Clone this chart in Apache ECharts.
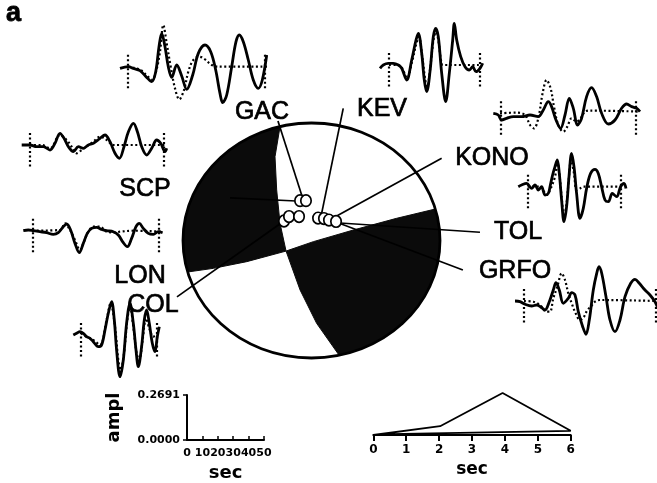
<!DOCTYPE html>
<html><head><meta charset="utf-8">
<script src="https://cdn.jsdelivr.net/npm/echarts@6/dist/echarts.min.js"></script>
<style>html,body{margin:0;padding:0;background:#fff}#c{width:657px;height:483px}</style>
</head><body><div id="c"></div>
<script>
// ---------- waveform data: [time sample, amplitude] (observed = solid, synthetic = dotted) ----------
const gacObs = [[0,-1.7],[8.3,0],[13.3,-1.7],[20,-4],[26.7,-10.7],[31.7,-15],[35.7,-5],[39,20],[41.7,33.3],[45,20],[48.3,0],[51.7,-10.7],[56.7,1.7],[61.7,-9.3],[66.7,-22.7],[72.7,-8.3],[78.3,13.3],[85,21.7],[90.7,15],[95.7,-3.3],[100,-26.7],[102.7,-36],[106.7,-28.3],[111.7,0],[116,25],[119.3,31.7],[123.3,25],[128.3,6.7],[133.3,-13.3],[138.3,-21.7],[142.3,-13.3],[146.7,11.7]];
const gacSyn = [[8,0],[20,-3],[27,-9],[32,-13],[36,-5],[40,15],[43.3,41.7],[46.7,23.3],[50.7,0],[55,-21.7],[59.3,-32.7],[64,-23.3],[68.3,-5],[73.3,6.7],[79.3,10],[85,7.3],[91.7,1.7],[98.3,0],[148,0]];
const gacMarks = [7.7,145];

const kevObs = [[0,-3.3],[3.3,0],[8.3,1.7],[13.3,1.7],[18.3,0],[21.7,-3.3],[26.7,-15],[31.7,5],[36,25],[38.3,31.7],[41.7,11.7],[44.3,-15],[46.7,-26.7],[50,-6.7],[53.3,28.3],[55.7,36.7],[58.3,28.3],[61.7,-8.3],[65.7,-36.7],[69.3,-8.3],[72.7,25],[74.3,41.7],[76.7,25],[80.7,8.3],[85,-1.7],[89.3,-5],[92.7,-1.7],[96,-6.7],[100,-3.3],[102.7,1.7]];
const kevSyn = [[9,0],[18,0],[22,-3],[27,-13],[32,3],[36.5,22],[39,28],[42,10],[45,-13],[47,-24],[50,-5],[53.5,25],[56,33],[58.3,25],[61,5],[63,0],[100,0]];
const kevMarks = [9,99.3];

const scpObs = [[0,0],[8.3,0],[15,-1.7],[21.7,-1.7],[28.3,-5],[33.3,1.7],[38.3,11.7],[42.3,6.7],[46.7,-1.7],[51.7,-6.7],[56.7,-1.7],[61.7,-3.3],[66.7,0],[71.7,1.7],[78.3,6.7],[83.3,10],[88.3,3.3],[93.3,-8.3],[97.7,-13.3],[102.3,-1.7],[106.7,13.3],[111.7,21.7],[115.7,13.3],[120,-1.7],[125,-10],[130,-3.3],[135,5],[139,1.7],[143.3,-6.7],[145,-3.3]];
const scpSyn = [[7.7,0],[20,0],[28.3,-3.3],[38.3,10],[45,5],[50,-1.7],[55,-8.3],[60,-5],[66.7,0],[71.7,3.3],[78.3,8.3],[85,5],[91.7,0],[145,0]];
const scpMarks = [7.7,141.7];

const konoObs = [[0,0],[5,-1.7],[8.3,-6.7],[13.3,-5],[20,-3.3],[28.3,-3.3],[36.7,-1.7],[45,-3.3],[50,3.3],[55,11.7],[58.3,6.7],[62.7,-6.7],[67.3,-15],[71.7,-1.7],[76,15],[80,5],[84.3,-11.7],[88.3,-5],[93.3,16.7],[98.3,25.7],[103.3,16.7],[108.3,0],[115,-10.7],[121.7,-6.7],[128.3,5],[133.3,9.3],[138.3,6.7],[143.3,5],[146.7,1.7]];
const konoSyn = [[6.7,0],[23.3,0.7],[31.7,-1.7],[36.7,-11.7],[40.7,-15],[45,-5],[49.3,20],[53.3,33.3],[57.3,25],[60.7,6.7],[65,-11.7],[70,-18.3],[74,-13.3],[78.3,-5],[83.3,-8.3],[87.3,-5],[91.7,1.7],[96.7,2.7],[146.7,1.7]];
const konoMarks = [7.7,142.3];

const tolObs = [[0,0],[3.3,1.7],[8.3,3.3],[13.3,-1.7],[16.7,1.7],[20,-3.3],[23.3,0],[26.7,-8.3],[30,-6.7],[31.7,0],[34.3,11.7],[36.7,20],[39,26.7],[41,13.3],[43.3,-13.3],[45.7,-35],[48.3,-20],[50.7,10],[53.3,33.3],[55.7,20],[58.3,-6.7],[61.7,-31.7],[65,-21.7],[68.3,-1.7],[72.3,13.3],[76.7,17.3],[80,13.3],[83.3,0],[86.7,-13.3],[90,-15],[94,-6.7],[98.3,-10],[102.3,0],[105.7,3.3],[107.7,-1.7]];
const tolSyn = [[9.3,0],[21.7,0],[28.3,-8.3],[31.7,-3.3],[36.7,10],[39,23.3],[41,13.3],[43.3,-10],[45.7,-30],[48.3,-16.7],[50.7,10],[52.7,26.7],[55.7,13.3],[58.3,-3.3],[61.7,-1.7],[65,0],[105,0]];
const tolMarks = [9.3,102.3];

const lonObs = [[0,0],[5,0.7],[10,0],[16.7,-1],[23.3,-2],[30,-3.7],[35,-2],[40,4],[43.3,6.7],[47.3,0.7],[51.7,-12.7],[56,-22],[60,-12.7],[64,-2.7],[68.3,2.3],[73.3,3.3],[78.3,1.3],[83.3,0],[90,-1],[95,-4.3],[100,-12],[104,-16],[108.3,-7.7],[112.7,4],[116,7.3],[120,2.3],[125,-2.7],[130,-3.7],[135,-1],[139.3,-2]];
const lonSyn = [[9,0],[36.7,0.7],[41.7,7.3],[46.7,0.7],[51.7,-9.3],[56.7,-19.3],[60.7,-11],[65,-1],[70,4],[76.7,4],[83.3,-1],[91.7,-1.7],[96.7,-1],[110,0],[138.3,-1]];
const lonMarks = [9,135];

const colObs = [[0,0],[3.3,1.7],[6.7,3.3],[10,1.7],[13.3,-1.7],[16.7,-3.3],[20,-6.7],[25,-11.7],[28.3,-10],[31.7,5],[35,21.7],[38.3,33.3],[41,15],[43.3,-15],[46.7,-41.7],[50,-25],[53.3,11.7],[56.7,31.7],[60,11.7],[62.7,-15],[65,-31.7],[68.3,-11.7],[71,15],[73.3,25],[76,11.7],[79,-8.3],[81.7,-16.7],[84,-1.7],[86,8.3]];
const colSyn = [[7.7,1.7],[13.3,-1.7],[20,-5],[26.7,-10],[33.3,15],[37.3,31.7],[41.7,8.3],[45,-25],[47.3,-35],[50.7,-18.3],[54,15],[56.7,28.3],[60,8.3],[63.3,-18.3],[66,-25],[69.3,-5],[72.7,16.7],[76,6.7],[80,-1.7],[83.3,0]];
const colMarks = [7.7,83.3];

const grfoObs = [[0,0],[5,-0.7],[10,-3.3],[16.7,-5],[21.7,-4],[26.7,-6.7],[30,-9],[34.3,-0.7],[38.3,11],[41,18.3],[44.3,11],[48.3,-2.3],[53.3,2.7],[56.7,8.3],[60,6],[63.3,-10.7],[67.7,-25.7],[71,-33.3],[74.3,-19],[78.3,11],[81.7,27.7],[84,34.3],[86.7,27.7],[91,4.3],[95,-19],[100,-30.7],[105,-19],[110,4.3],[115.7,17.7],[120,21.7],[124.3,17.7],[130,11],[135,6],[140,-0.7],[142.3,-5.7]];
const grfoSyn = [[9,0],[18.3,-0.7],[25,-4],[31.7,-10.7],[35,-10.7],[38.3,2.7],[42.3,14.3],[46.7,27.7],[50,21],[53.3,7.7],[56.7,-2.3],[60,-10.7],[65,-19],[69,-15.7],[72.3,-9],[75.7,-5.7],[80,-0.7],[85,1],[141.7,0]];
const grfoMarks = [9,141];

const markExtent = [12,-24]; // window marker amplitude (top, bottom)

// ---------- focal mechanism (unit-circle coordinates) ----------
const nodalPlane1 = [[-0.245,0.97],[-0.284,0.713],[-0.271,0.43],[-0.245,0.146],[-0.198,-0.09],[-0.089,-0.421],[0.04,-0.705],[0.215,-0.977]];
const nodalPlane2 = [[-0.964,-0.268],[-0.764,-0.237],[-0.504,-0.18],[-0.198,-0.09],[0.014,-0.01],[0.325,0.089],[0.663,0.189],[0.964,0.268]];
const stationPoints = [[-0.089,0.339],[-0.043,0.339],[-0.214,0.166],[-0.175,0.204],[-0.097,0.204],[0.051,0.191],[0.097,0.187],[0.136,0.174],[0.191,0.162]];
const stationLines = [
  [[-0.074,0.379],[-0.261,1.017]],
  [[0.079,0.231],[0.247,1.125]],
  [[0.196,0.209],[1.013,0.70]],
  [[0.222,0.149],[1.311,0.07]],
  [[0.191,0.157],[1.178,-0.251]],
  [[-0.12,0.336],[-0.634,0.362]],
  [[-0.214,0.166],[-1.047,-0.48]]
];
const stationNames = ['GAC','KEV','KONO','TOL','GRFO','SCP','LON','COL'];

// ---------- source time functions ----------
const stfLeftTicks = [0,10,20,30,40,50];
const stfLeftAmp = [0.0000,0.2691];
const stfTime = [0,2.03,3.93,6,0.5];
const stfAmp  = [0,0.21,1,0.1,0.02];

// ---------- layout ----------
const traces = [
  {obs:gacObs, syn:gacSyn, marks:gacMarks, span:148, left:120, top:21.7},
  {obs:kevObs, syn:kevSyn, marks:kevMarks, span:103, left:380, top:20},
  {obs:scpObs, syn:scpSyn, marks:scpMarks, span:145, left:21.7, top:100},
  {obs:konoObs, syn:konoSyn, marks:konoMarks, span:147, left:493.3, top:68.3},
  {obs:tolObs, syn:tolSyn, marks:tolMarks, span:108, left:518.3, top:141.7},
  {obs:lonObs, syn:lonSyn, marks:lonMarks, span:140, left:23.3, top:185.7},
  {obs:colObs, syn:colSyn, marks:colMarks, span:87, left:73.3, top:290},
  {obs:grfoObs, syn:grfoSyn, marks:grfoMarks, span:142, left:515, top:256}
];

const grids=[], xAxes=[], yAxes=[], series=[];
traces.forEach((tr,i)=>{
  grids.push({left:tr.left, top:tr.top, width:tr.span, height:90});
  xAxes.push({type:'value', gridIndex:i, min:0, max:tr.span, show:false});
  yAxes.push({type:'value', gridIndex:i, min:-45, max:45, show:false});
  series.push({type:'line', xAxisIndex:i, yAxisIndex:i, data:tr.obs, smooth:0.35, symbol:'none',
    lineStyle:{color:'#000', width:2.8}, animation:false, silent:true, z:3});
  series.push({type:'line', xAxisIndex:i, yAxisIndex:i, data:tr.syn, smooth:0.35, symbol:'none',
    lineStyle:{color:'#000', width:2.2, type:[2,2.5]}, animation:false, silent:true, z:2,
    markLine:{silent:true, symbol:['none','none'], label:{show:false}, animation:false,
      lineStyle:{color:'#000', width:2.2, type:[2,2.5]},
      data: tr.marks.map(t=>[{coord:[t,markExtent[0]]},{coord:[t,markExtent[1]]}])}});
});

// beachball grid
const BI = traces.length;
grids.push({left:183, top:123, width:257, height:235});
xAxes.push({type:'value', gridIndex:BI, min:-1, max:1, show:false});
yAxes.push({type:'value', gridIndex:BI, min:-1, max:1, show:false});

function ang(p){ return Math.atan2(p[1],p[0]); }
function renderBall(params, api){
  const C = p => api.coord(p);
  const c0 = C([0,0]), cx = C([1,0]), cy = C([0,1]);
  const rx = cx[0]-c0[0], ry = c0[1]-cy[1];
  function arc(a0,a1,n){ const pts=[]; for(let k=0;k<=n;k++){ const a=a0+(a1-a0)*k/n; pts.push(C([Math.cos(a),Math.sin(a)])); } return pts; }
  const p1 = nodalPlane1, p2 = nodalPlane2;
  const A = arc(ang(p1[0]), ang(p2[0])+ (ang(p2[0])<ang(p1[0])?2*Math.PI:0), 40)
    .concat([p2[1],p2[2],p2[3],p1[3],p1[2],p1[1]].map(C));
  const B = [p2[3],p2[4],p2[5],p2[6]].map(C)
    .concat(arc(ang(p2[7]), ang(p1[7]), 40))
    .concat([p1[6],p1[5]].map(C));
  const children = [
    {type:'polygon', shape:{points:A}, style:{fill:'#0b0b0b', stroke:'#0b0b0b', lineWidth:1}},
    {type:'polygon', shape:{points:B}, style:{fill:'#0b0b0b', stroke:'#0b0b0b', lineWidth:1}},
    {type:'ellipse', shape:{cx:c0[0], cy:c0[1], rx:rx, ry:ry}, style:{fill:null, stroke:'#000', lineWidth:2.8}}
  ];
  stationLines.forEach(l=>{
    const a=C(l[0]), b=C(l[1]);
    children.push({type:'line', shape:{x1:a[0],y1:a[1],x2:b[0],y2:b[1]}, style:{stroke:'#000', lineWidth:1.7}});
  });
  stationPoints.forEach(p=>{
    const q=C(p);
    children.push({type:'ellipse', shape:{cx:q[0], cy:q[1], rx:5.2, ry:5.8}, style:{fill:'#fff', stroke:'#000', lineWidth:1.7}});
  });
  return {type:'group', children};
}
series.push({type:'custom', xAxisIndex:BI, yAxisIndex:BI, data:[[0,0]], renderItem:renderBall,
  animation:false, silent:true, clip:false, z:1});

// bottom-left panel
const LI = BI+1;
const boldTxt = {color:'#000', fontFamily:'DejaVu Sans', fontWeight:'bold'};
grids.push({left:187, top:395, width:77, height:46});
xAxes.push({type:'value', gridIndex:LI, min:stfLeftTicks[0], max:stfLeftTicks[stfLeftTicks.length-1], interval:10,
  axisLine:{show:true, onZero:false, lineStyle:{color:'#000', width:2}},
  axisTick:{show:true, inside:true, length:4, lineStyle:{color:'#000', width:1.5}},
  axisLabel:Object.assign({fontSize:11, margin:8}, boldTxt),
  splitLine:{show:false},
  name:'sec', nameLocation:'middle', nameGap:24,
  nameTextStyle:Object.assign({fontSize:18}, boldTxt)});
yAxes.push({type:'value', gridIndex:LI, min:stfLeftAmp[0], max:stfLeftAmp[1], interval:stfLeftAmp[1],
  axisLine:{show:true, lineStyle:{color:'#000', width:2}},
  axisTick:{show:true, length:4, lineStyle:{color:'#000', width:1.5}},
  axisLabel:Object.assign({fontSize:11, margin:7, formatter:v=>v.toFixed(4)}, boldTxt),
  splitLine:{show:false},
  name:'ampl', nameLocation:'middle', nameRotate:90, nameGap:64,
  nameTextStyle:Object.assign({fontSize:18}, boldTxt)});

// bottom-right panel
const RI = LI+1;
grids.push({left:373.3, top:393, width:197.4, height:42});
xAxes.push({type:'value', gridIndex:RI, min:0, max:6, interval:1,
  axisLine:{show:true, onZero:false, lineStyle:{color:'#000', width:2}},
  axisTick:{show:true, length:6, lineStyle:{color:'#000', width:2}},
  axisLabel:Object.assign({fontSize:12, margin:9}, boldTxt),
  splitLine:{show:false},
  name:'sec', nameLocation:'middle', nameGap:26,
  nameTextStyle:Object.assign({fontSize:17}, boldTxt)});
yAxes.push({type:'value', gridIndex:RI, min:0, max:1, show:false});
series.push({type:'line', xAxisIndex:RI, yAxisIndex:RI, data:stfTime.map((t,k)=>[t,stfAmp[k]]),
  symbol:'none', lineStyle:{color:'#000', width:1.8}, animation:false, silent:true});

// station labels
const labelPos = {GAC:[262,112], KEV:[382,109], KONO:[492,158], TOL:[518,232], GRFO:[515,271], SCP:[145,189], LON:[140,276], COL:[153,305]};
const graphic = stationNames.map(n=>({type:'text', x:labelPos[n][0], y:labelPos[n][1], silent:true,
  style:{text:n, fill:'#000', stroke:'#000', lineWidth:0.7, font:'25px "Liberation Sans", Arial, sans-serif', align:'center', verticalAlign:'middle'}}));
graphic.push({type:'text', x:13.5, y:14, silent:true,
  style:{text:'a', fill:'#000', stroke:'#000', lineWidth:0.8, font:'bold 27px "Liberation Sans", Arial, sans-serif', align:'center', verticalAlign:'middle'}});

const chart = echarts.init(document.getElementById('c'), null, {width:657, height:483});
chart.setOption({backgroundColor:'#fff', animation:false, grid:grids, xAxis:xAxes, yAxis:yAxes, series, graphic});
</script></body></html>
